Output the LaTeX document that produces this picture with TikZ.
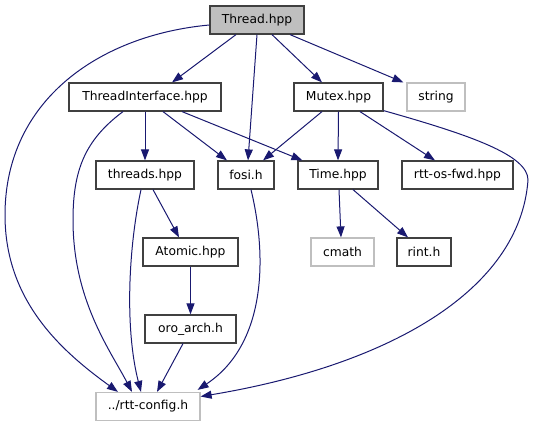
\documentclass[tikz,border=0pt]{standalone}
\usepackage{fontspec}
\setmainfont{DejaVu Sans}
\usetikzlibrary{arrows.meta}
\definecolor{DoxEdge}{HTML}{191970}
\definecolor{DoxGray}{HTML}{BFBFBF}
\definecolor{DoxFrame}{HTML}{404040}

\begin{document}
\begin{tikzpicture}[x=1pt, y=-1pt, every node/.style={font=\fontsize{12.3}{14}\selectfont},
    file/.style={draw=DoxFrame, line width=1.2pt, minimum height=28pt, inner sep=0pt},
    sysfile/.style={file, draw=DoxGray},
    dep/.style={DoxEdge, line width=1pt, -{Triangle[length=11pt,width=8pt]}}]
    \useasboundingbox (0,0) rectangle (534,427);

    % Files, row by row
    \node[file, fill=DoxGray, minimum width=94pt] (thread) at (257,20) {Thread.hpp};

    \node[file, minimum width=152pt] (ti) at (145,97) {ThreadInterface.hpp};
    \node[file, minimum width=89pt] (mutex) at (338.5,97) {Mutex.hpp};
    \node[sysfile, minimum width=58pt] (str) at (436,97) {string};

    \node[file, minimum width=98pt] (threads) at (145,175) {threads.hpp};
    \node[file, minimum width=56pt] (fosi) at (246,175) {fosi.h};
    \node[file, minimum width=80pt] (time) at (338,175) {Time.hpp};
    \node[file, minimum width=111pt] (osfwd) at (457.5,175) {rtt-os-fwd.hpp};

    \node[file, minimum width=95pt] (atomic) at (190.5,252) {Atomic.hpp};
    \node[sysfile, minimum width=63pt] (cmath) at (342.5,252) {cmath};
    \node[file, minimum width=54pt] (rint) at (424,252) {rint.h};

    \node[file, minimum width=91pt] (oro) at (190.5,329) {oro\_arch.h};

    \node[sysfile, minimum width=104pt] (cfg) at (148,406.5) {../rtt-config.h};

    % Includes of Thread.hpp
    \draw[dep] ([xshift=-21pt]thread.south) -- ([xshift=27pt]ti.north);
    \draw[dep] (thread.south) -- ([xshift=2pt]fosi.north);
    \draw[dep] ([xshift=15pt]thread.south) -- ([xshift=-16.5pt]mutex.north);
    \draw[dep] ([xshift=33pt]thread.south) -- ([xshift=-3pt]str.north west);
    \draw[dep] ([yshift=-5pt]thread.west) .. controls (100,35) and (5,100) .. (5,215)
        .. controls (5,300) and (60,350) .. ([xshift=-30pt]cfg.north);

    % Includes of ThreadInterface.hpp
    \draw[dep] (ti.south) -- (threads.north);
    \draw[dep] ([xshift=18pt]ti.south) -- ([xshift=-19pt]fosi.north);
    \draw[dep] ([xshift=37pt]ti.south) -- ([xshift=5pt]time.north west);
    \draw[dep] ([xshift=-22pt]ti.south) .. controls (85,140) and (73,170) .. (73,220)
        .. controls (73,300) and (110,350) .. ([xshift=-16pt]cfg.north);

    % Includes of Mutex.hpp
    \draw[dep] ([xshift=-16.5pt]mutex.south) -- ([xshift=17pt]fosi.north);
    \draw[dep] (mutex.south) -- (time.north);
    \draw[dep] ([xshift=21.5pt]mutex.south) -- ([xshift=-22.5pt]osfwd.north);
    \draw[dep] ([yshift=1pt]mutex.south east) .. controls (470,135) and (528,155) .. (528,180)
        .. controls (520,290) and (390,365) .. ([yshift=10pt]cfg.east);

    % Lower levels
    \draw[dep] ([xshift=8pt]threads.south) -- ([xshift=-11.5pt]atomic.north);
    \draw[dep] ([xshift=-4pt]threads.south) .. controls (128,250) and (125,330) .. ([xshift=-7pt]cfg.north);
    \draw[dep] ([xshift=5pt]fosi.south) .. controls (268,260) and (265,345) .. ([xshift=-3pt,yshift=2pt]cfg.north east);
    \draw[dep] ([xshift=1pt]time.south) -- ([xshift=-1.5pt]cmath.north);
    \draw[dep] ([xshift=15pt]time.south) -- ([xshift=-16pt]rint.north);
    \draw[dep] (atomic.south) -- (oro.north);
    \draw[dep] ([xshift=-7.5pt]oro.south) -- ([xshift=9pt]cfg.north);

\end{tikzpicture}
\end{document}
